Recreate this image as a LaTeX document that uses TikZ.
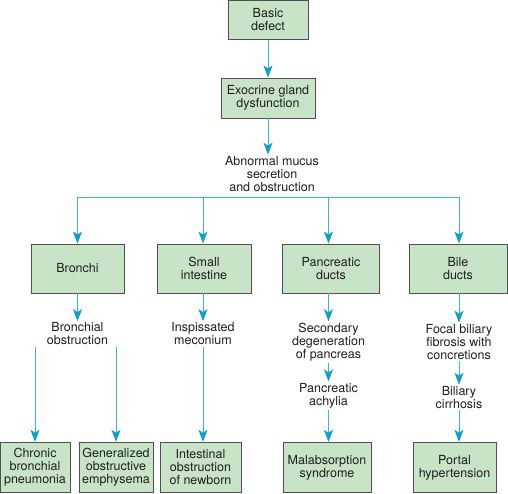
\documentclass[tikz,border=0pt]{standalone}
\usepackage{fontspec}
\setmainfont{TeX Gyre Heros}
\usetikzlibrary{arrows.meta}
\definecolor{boxgreen}{RGB}{200,228,198}
\definecolor{boxline}{RGB}{80,80,80}
\definecolor{linkblue}{RGB}{60,178,214}
\definecolor{tipblue}{RGB}{16,158,204}
\definecolor{textdark}{RGB}{30,30,30}
\tikzset{
  greenbox/.style={draw=boxline, fill=boxgreen, line width=0.9pt, align=center, inner sep=0pt},
  note/.style={align=center, inner sep=1.5pt},
  wire/.style={draw=linkblue, line width=0.9pt},
  link/.style={wire, -{Stealth[length=12pt, width=9pt, inset=3pt, color=tipblue]}}
}

\begin{document}
\begin{tikzpicture}[x=1pt, y=-1pt, font=\fontsize{12.5}{13}\selectfont, text=textdark]
\useasboundingbox (0,0) rectangle (508,493);
% top of the chart
\node[greenbox, minimum width=80pt, minimum height=38.5pt] (defect) at (268,20) {Basic\\defect};
\node[greenbox, minimum width=94pt, minimum height=40pt] (exocrine) at (268,98) {Exocrine gland\\dysfunction};
\node[note] (mucus) at (272,174) {Abnormal mucus\\secretion\\and obstruction};
\coordinate (bus) at (0,197);
% organs
\node[greenbox, minimum width=93pt, minimum height=49pt] (bronchi) at (77.5,268.5) {Bronchi};
\node[greenbox, minimum width=94pt, minimum height=49pt] (smallint) at (204,268.5) {Small\\intestine};
\node[greenbox, minimum width=97pt, minimum height=49pt] (pancduct) at (331,268.5) {Pancreatic\\ducts};
\node[greenbox, minimum width=98pt, minimum height=49pt] (bileduct) at (458,268.5) {Bile\\ducts};
% what happens in each
\node[note] (bronchial) at (77.5,334) {Bronchial\\obstruction};
\node[note] (meconium) at (203,334) {Inspissated\\meconium};
\node[note] (secondary) at (328.5,342) {Secondary\\degeneration\\of pancreas};
\node[note] (achylia) at (328.5,395.5) {Pancreatic\\achylia};
\node[note] (focal) at (459,342) {Focal biliary\\fibrosis with\\concretions};
\node[note] (cirrhosis) at (459,397.5) {Biliary\\cirrhosis};
% results
\node[greenbox, minimum width=70pt, minimum height=50.5pt] (chronic) at (35,467.5) {Chronic\\bronchial\\pneumonia};
\node[greenbox, minimum width=74pt, minimum height=50.5pt] (emphysema) at (116,467.5) {Generalized\\obstructive\\emphysema};
\node[greenbox, minimum width=81pt, minimum height=50.5pt] (newborn) at (200.5,467.5) {Intestinal\\obstruction\\of newborn};
\node[greenbox, minimum width=88pt, minimum height=50.5pt] (malabs) at (327,467.5) {Malabsorption\\syndrome};
\node[greenbox, minimum width=83pt, minimum height=50.5pt] (portal) at (454.5,467.5) {Portal\\hypertension};

\draw[link] (defect) -- (exocrine);
\draw[link] (exocrine.south) -- (exocrine.south |- mucus.north);
\draw[wire] (bus -| bronchial) -- (bus -| focal);
\draw[link] (bus -| bronchial) -- (bronchial |- bronchi.north);
\draw[link] (bus -| meconium) -- (meconium |- smallint.north);
\draw[link] (bus -| secondary) -- (secondary |- pancduct.north);
\draw[link] (bus -| focal) -- (focal |- bileduct.north);
\draw[link] (bronchial |- bronchi.south) -- (bronchial.north);
\draw[link] (meconium |- smallint.south) -- (meconium.north);
\draw[link] (secondary |- pancduct.south) -- (secondary.north);
\draw[link] (focal |- bileduct.south) -- (focal.north);
\draw[link] (chronic.north |- bronchial.south) -- (chronic.north);
\draw[link] (emphysema.north |- bronchial.south) -- (emphysema.north);
\draw[link] (meconium.south) -- (meconium.south |- newborn.north);
\draw[link] (secondary.south) -- (achylia.north);
\draw[link] (achylia.south) -- (achylia.south |- malabs.north);
\draw[link] (focal.south) -- (cirrhosis.north);
\draw[link] (cirrhosis.south) -- (cirrhosis.south |- portal.north);
\end{tikzpicture}
\end{document}
